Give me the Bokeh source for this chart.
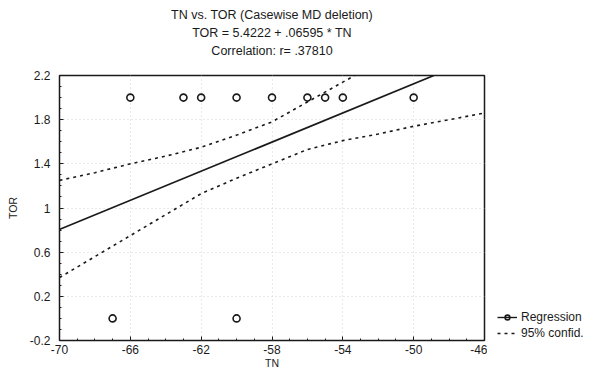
from bokeh.plotting import figure
from bokeh.models import (FixedTicker, Range1d, Slope, Title, Legend, LegendItem)
from bokeh.layouts import row
from bokeh.embed import file_html
from bokeh.resources import INLINE

# ---- data ----
tn_points = [-66, -63, -62, -60, -58, -56, -55, -54, -50, -67, -60]
tor_points = [2, 2, 2, 2, 2, 2, 2, 2, 2, 0, 0]
reg_intercept = 5.4222
reg_slope = 0.06595
band_tn = [-70, -68, -66, -64, -62, -60, -58, -56, -54, -52, -50, -48, -46]
band_upper = [1.25, 1.32, 1.40, 1.47, 1.55, 1.66, 1.78, 1.96, 2.14, 2.32, 2.50, 2.70, 2.90]
band_lower = [0.37, 0.56, 0.75, 0.94, 1.13, 1.27, 1.40, 1.53, 1.61, 1.67, 1.74, 1.80, 1.86]
x_ticks = [-70, -66, -62, -58, -54, -50, -46]
x_tick_labels = ["-70", "-66", "-62", "-58", "-54", "-50", "-46"]
y_ticks = [-0.2, 0.2, 0.6, 1.0, 1.4, 1.8, 2.2]
y_tick_labels = ["-0.2", "0.2", "0.6", "1", "1.4", "1.8", "2.2"]
title_lines = ["TN vs. TOR (Casewise MD deletion)",
               "TOR = 5.4222 + .06595 * TN",
               "Correlation: r= .37810"]
legend_labels = ["Regression", "95% confid."]

FONT = "Liberation Sans"
INK = "#1a1a1a"

p = figure(width=487, height=371, x_range=Range1d(-70, -46), y_range=Range1d(-0.2, 2.2),
           output_backend="svg", toolbar_location=None,
           min_border_left=59, min_border_right=3, min_border_top=75, min_border_bottom=27)
p.title = None
p.background_fill_color = "white"
p.border_fill_color = "white"
p.outline_line_color = INK
p.outline_line_width = 1.5

# titles: first added is closest to the plot; a blank spacer sits under the last line
p.add_layout(Title(text=" ", text_font=FONT, text_font_size="12px", standoff=1), "above")
standoffs = [1, 4, 0]
for txt, so in zip(reversed(title_lines), standoffs):
    t = Title(text=txt, align="center", text_font=FONT, text_font_size="12.5px",
              text_font_style="normal", text_color=INK, standoff=so, offset=0)
    p.add_layout(t, "above")

# axes
xminor = list(range(-70, -45))
yminor = [round(-0.2 + 0.1 * i, 2) for i in range(25)]
p.xaxis.ticker = FixedTicker(ticks=x_ticks, minor_ticks=xminor)
p.yaxis.ticker = FixedTicker(ticks=y_ticks, minor_ticks=yminor)
p.xaxis.major_label_overrides = {t: l for t, l in zip(x_ticks, x_tick_labels)}
p.yaxis.major_label_overrides = {t: l for t, l in zip(y_ticks, y_tick_labels)}
for ax in (p.xaxis[0], p.yaxis[0]):
    ax.axis_line_color = None
    ax.major_tick_in = 4
    ax.major_tick_out = 0
    ax.minor_tick_in = 2
    ax.minor_tick_out = 0
    ax.major_tick_line_color = INK
    ax.minor_tick_line_color = INK
    ax.major_label_text_font = FONT
    ax.major_label_text_font_size = "12px"
    ax.major_label_text_color = INK
    ax.axis_label_text_font = FONT
    ax.axis_label_text_font_size = "10.5px"
    ax.axis_label_text_font_style = "normal"
    ax.axis_label_text_color = INK
p.xaxis.axis_label = "TN"
p.yaxis.axis_label = "TOR"
p.xaxis.major_label_standoff = 4
p.yaxis.major_label_standoff = 9
p.xaxis.axis_label_standoff = 0
p.yaxis.axis_label_standoff = 8

# faint grid
p.xgrid.ticker = FixedTicker(ticks=x_ticks)
p.ygrid.ticker = FixedTicker(ticks=y_ticks)
p.grid.grid_line_color = "#d4d4d4"
p.grid.grid_line_dash = "1 3"
p.grid.grid_line_width = 1

# confidence bands
up = p.line(band_tn, band_upper, line_color=INK, line_width=1.6, line_dash="3 4")
lo = p.line(band_tn, band_lower, line_color=INK, line_width=1.6, line_dash="3 4")

# regression line
p.add_layout(Slope(gradient=reg_slope, y_intercept=reg_intercept,
                   line_color=INK, line_width=1.7))

# points
pts = p.scatter(tn_points, tor_points, marker="circle", size=7, fill_color=None,
                line_color=INK, line_width=1.6)

# legend panel: a small figure to the right of the frame whose own glyphs lie
# outside its visible y range, so only the legend shows
lg = figure(width=97, height=371, x_range=Range1d(-70, -46), y_range=Range1d(10, 11),
            output_backend="svg", toolbar_location=None,
            x_axis_location=None, y_axis_location=None,
            min_border_left=0, min_border_right=0, min_border_top=0, min_border_bottom=0)
lg.title = None
lg.grid.visible = False
lg.outline_line_color = None
lg_line = lg.line(band_tn, band_upper, line_color=INK, line_width=1.4)
lg_pts = lg.scatter(tn_points, tor_points, marker="circle", size=7, fill_color=None,
                    line_color=INK, line_width=1.6)
lg_band = lg.line(band_tn, band_lower, line_color=INK, line_width=1.4, line_dash="3 4")

legend = Legend(items=[LegendItem(label=legend_labels[0], renderers=[lg_line, lg_pts]),
                       LegendItem(label=legend_labels[1], renderers=[lg_band])],
                location=(10, 0), background_fill_alpha=0, border_line_color=None,
                label_text_font=FONT, label_text_font_size="12px", label_text_color=INK,
                glyph_width=20, glyph_height=12, label_height=12, spacing=2,
                padding=0, margin=0, label_standoff=4)
lg.add_layout(legend, "center")

layout = row(p, lg, spacing=0)
open("out.html", "w").write(file_html(layout, INLINE))
